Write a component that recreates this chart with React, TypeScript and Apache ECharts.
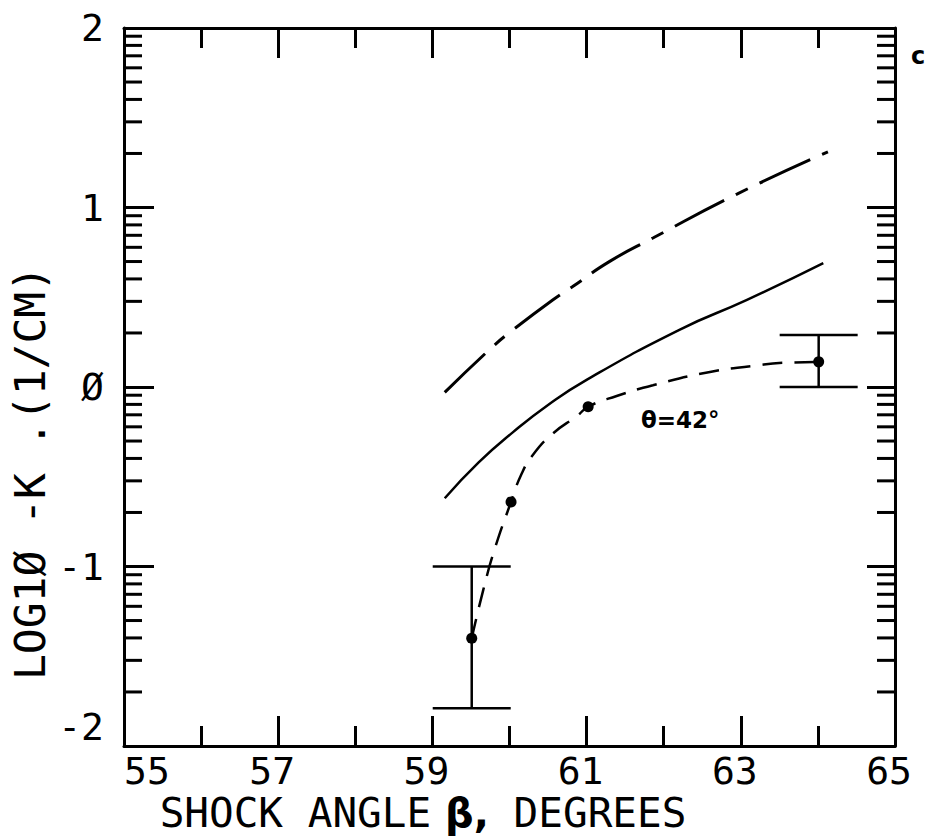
import React, { useEffect, useRef } from 'react';
import * as echarts from 'echarts';

// ---- axis ticks / labels ----
const xMajorTicks = [55, 57, 59, 61, 63, 65];
const xMinorTicks = [56, 58, 60, 62, 64];
const yMajorTicks = [-2, -1, 0, 1, 2];
const yTickLabels = ['-2', '-1', 'Ø', '1', '2'];
const yInnerMajorTicks = [-1, 0, 1];
const yDecades = [-2, -1, 0, 1];
const yMinorMultipliers = [2, 3, 4, 5, 6, 7, 8, 9];

// ---- curves ----
const dashDotX = [59.16, 59.77, 60.05, 60.56, 60.82, 61.3, 61.86, 62.95, 64.13];
const dashDotY = [-0.03, 0.22, 0.32, 0.485, 0.56, 0.7, 0.83, 1.075, 1.31];

const solidX = [59.16, 59.6, 60.05, 60.5, 61.0, 62.21, 63.08, 64.07];
const solidY = [-0.62, -0.42, -0.25, -0.1, 0.04, 0.32, 0.485, 0.69];

const thetaX = [59.51, 59.66, 59.81, 60.02, 60.15, 60.3, 60.56, 60.88, 61.02, 61.39, 61.86, 62.6, 63.16, 63.55, 64.01];
const thetaY = [-1.4, -1.13, -0.9, -0.64, -0.49, -0.38, -0.26, -0.16, -0.11, -0.05, 0.01, 0.084, 0.117, 0.135, 0.139];

const pointX = [59.51, 60.02, 61.02, 64.01];
const pointY = [-1.4, -0.64, -0.11, 0.14];

const errX = [59.51, 64.01];
const errLow = [-1.79, 0.0];
const errHigh = [-1.0, 0.29];

const MONO = '"DejaVu Sans Mono", monospace';

export default function App() {
  const ref = useRef<HTMLDivElement>(null);

  useEffect(() => {
    if (!ref.current) return;
    const chart = echarts.init(ref.current, undefined, { renderer: 'svg' });

    const xMin = xMajorTicks[0];
    const xMax = xMajorTicks[xMajorTicks.length - 1];
    const yMin = yMajorTicks[0];
    const yMax = yMajorTicks[yMajorTicks.length - 1];

    const yMinor: number[] = [];
    for (let i = 0; i < yDecades.length; i++) {
      for (let j = 0; j < yMinorMultipliers.length; j++) {
        yMinor.push(yDecades[i] + Math.log10(yMinorMultipliers[j]));
      }
    }

    const black = '#000';
    const tickStyle = { color: black, width: 3 };

    const xAxes = [
      {
        type: 'value', min: xMin, max: xMax, position: 'bottom',
        splitLine: { show: false },
        axisLine: { show: true, onZero: false, lineStyle: tickStyle },
        axisTick: { show: true, inside: true, length: 30, customValues: xMajorTicks, lineStyle: tickStyle },
        axisLabel: {
          show: true, customValues: xMajorTicks, color: black, fontFamily: MONO, fontSize: 38, margin: 6,
          padding: [0, 12, 0, 0], alignMinLabel: 'left', alignMaxLabel: 'center',
          formatter: (v: number) => String(v),
        },
      },
      {
        type: 'value', min: xMin, max: xMax, position: 'top',
        splitLine: { show: false },
        axisLine: { show: true, onZero: false, lineStyle: tickStyle },
        axisTick: { show: true, inside: true, length: 30, customValues: xMajorTicks, lineStyle: tickStyle },
        axisLabel: { show: false },
      },
      {
        type: 'value', min: xMin, max: xMax, position: 'bottom',
        splitLine: { show: false },
        axisLine: { show: false, onZero: false },
        axisTick: { show: true, inside: true, length: 20, customValues: xMinorTicks, lineStyle: tickStyle },
        axisLabel: { show: false },
      },
      {
        type: 'value', min: xMin, max: xMax, position: 'top',
        splitLine: { show: false },
        axisLine: { show: false, onZero: false },
        axisTick: { show: true, inside: true, length: 20, customValues: xMinorTicks, lineStyle: tickStyle },
        axisLabel: { show: false },
      },
    ];

    const yAxes = [
      {
        type: 'value', min: yMin, max: yMax, interval: 1,
        splitLine: { show: false },
        axisLine: { show: true, lineStyle: tickStyle },
        axisTick: { show: true, inside: true, length: 30, customValues: yInnerMajorTicks, lineStyle: tickStyle },
        axisLabel: {
          color: black, fontFamily: MONO, fontSize: 38, margin: 20,
          verticalAlignMinLabel: 'bottom',
          formatter: (v: number) => yTickLabels[yMajorTicks.indexOf(Math.round(v))],
        },
      },
      {
        type: 'value', min: yMin, max: yMax, position: 'right',
        splitLine: { show: false },
        axisLine: { show: true, lineStyle: tickStyle },
        axisTick: { show: true, inside: true, length: 28, customValues: yInnerMajorTicks, lineStyle: tickStyle },
        axisLabel: { show: false },
      },
    ];

    const zip = (a: number[], b: number[]) => a.map((v, i) => [v, b[i]]);

    const option: any = {
      animation: false,
      backgroundColor: '#fff',
      grid: { left: 124, right: 35, top: 28, bottom: 94 },
      xAxis: xAxes,
      yAxis: yAxes,
      series: [
        {
          name: 'y minor ticks', type: 'custom', silent: true,
          data: yMinor.map((v) => [60, v]),
          renderItem: (params: any, api: any) => {
            const v = api.value(1);
            const pl = api.coord([xMin, v]);
            const pr = api.coord([xMax, v]);
            const st = { stroke: black, lineWidth: 3 };
            return {
              type: 'group',
              children: [
                { type: 'line', shape: { x1: pl[0], y1: pl[1], x2: pl[0] + 18, y2: pl[1] }, style: st },
                { type: 'line', shape: { x1: pr[0] - 18, y1: pr[1], x2: pr[0], y2: pr[1] }, style: st },
              ],
            };
          },
        },
        {
          name: 'dash-dot', type: 'line',
          data: zip(dashDotX, dashDotY), smooth: 0.5, symbol: 'none',
          lineStyle: { color: black, width: 3, type: [56, 13, 13, 13] },
        },
        {
          name: 'solid', type: 'line',
          data: zip(solidX, solidY), smooth: 0.5, symbol: 'none',
          lineStyle: { color: black, width: 2.5, type: 'solid' },
        },
        {
          name: 'theta', type: 'line',
          data: zip(thetaX, thetaY), smooth: 0.5, symbol: 'none',
          lineStyle: { color: black, width: 2.5, type: [20, 12] },
        },
        {
          name: 'errors', type: 'custom',
          data: errX.map((x, i) => [x, errLow[i], errHigh[i]]),
          renderItem: (params: any, api: any) => {
            const x = api.value(0);
            const lo = api.coord([x, api.value(1)]);
            const hi = api.coord([x, api.value(2)]);
            const half = 39;
            const st = { stroke: black, lineWidth: 2.5 };
            return {
              type: 'group',
              children: [
                { type: 'line', shape: { x1: lo[0], y1: lo[1], x2: hi[0], y2: hi[1] }, style: st },
                { type: 'line', shape: { x1: lo[0] - half, y1: lo[1], x2: lo[0] + half, y2: lo[1] }, style: st },
                { type: 'line', shape: { x1: hi[0] - half, y1: hi[1], x2: hi[0] + half, y2: hi[1] }, style: st },
              ],
            };
          },
          z: 3,
        },
        {
          name: 'points', type: 'scatter',
          data: zip(pointX, pointY), symbol: 'circle', symbolSize: 11,
          itemStyle: { color: black, opacity: 1 }, z: 4,
        },
      ],
      graphic: [
        {
          type: 'text', x: 30, y: 473, rotation: Math.PI / 2,
          style: { text: 'LOG1Ø -K .(1/CM)', fontFamily: MONO, fontSize: 43, fill: black, align: 'center', verticalAlign: 'middle' },
        },
        {
          type: 'text', x: 423, y: 813,
          style: {
            text: '{a|SHOCK ANGLE}{b| β,}{a| DEGREES}',
            align: 'center', verticalAlign: 'middle',
            rich: {
              a: { fontFamily: MONO, fontSize: 41, fill: black },
              b: { fontFamily: '"DejaVu Sans", sans-serif', fontWeight: 'bold', fontSize: 40, fill: black },
            },
          },
        },
        {
          type: 'text', x: 918, y: 56,
          style: { text: 'c', fontFamily: '"DejaVu Sans", sans-serif', fontWeight: 'bold', fontSize: 24, fill: black, align: 'center', verticalAlign: 'middle' },
        },
        {
          type: 'text', x: 641, y: 420,
          style: { text: 'θ=42°', fontFamily: '"DejaVu Sans", sans-serif', fontWeight: 'bold', fontSize: 23, fill: black, align: 'left', verticalAlign: 'middle' },
        },
      ],
    };

    chart.setOption(option);
    return () => chart.dispose();
  }, []);

  return (
    <div
      ref={ref}
      style={{ position: 'fixed', left: 0, top: 0, width: 930, height: 840, background: '#fff' }}
    />
  );
}
